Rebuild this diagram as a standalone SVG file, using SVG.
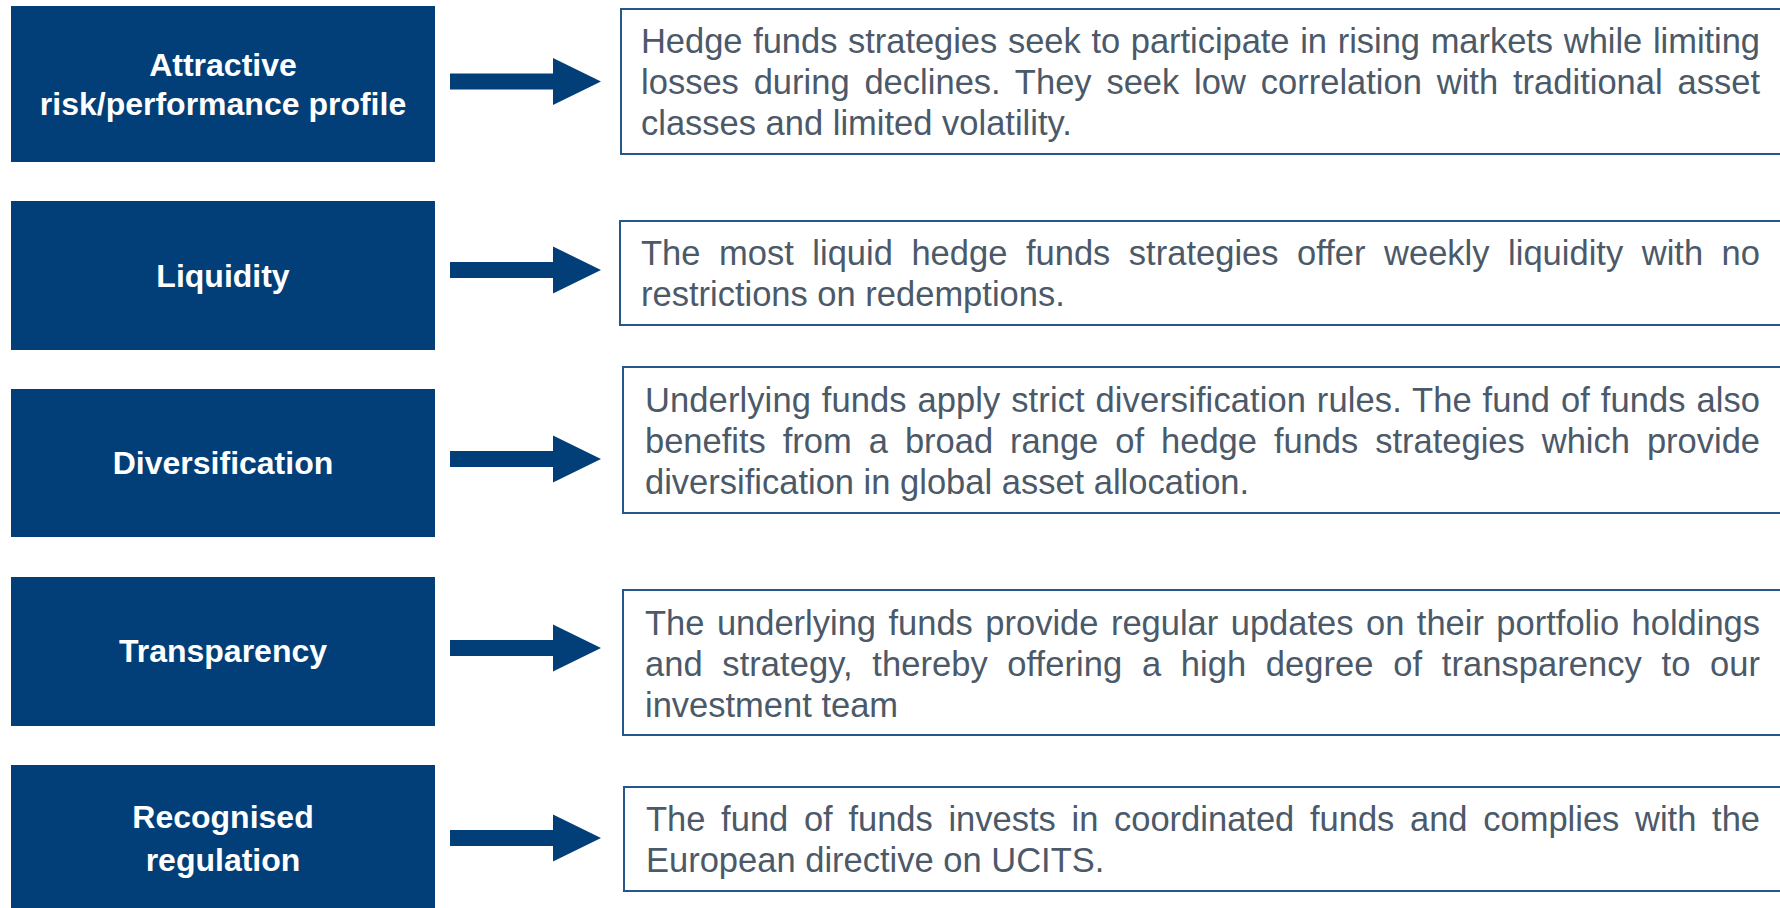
<svg xmlns="http://www.w3.org/2000/svg" width="1780" height="908" viewBox="0 0 1780 908">
  <defs>
    <style>
      .key { fill: #023f78; }
      .key-label { font-family: "Liberation Sans", Arial, sans-serif; font-weight: bold; font-size: 32px; fill: #ffffff; text-anchor: middle; }
      .detail { fill: #ffffff; stroke: #26578c; stroke-width: 2; }
      .detail-text { font-family: "Liberation Sans", Arial, sans-serif; font-size: 34.5px; fill: #4b5969; }
      .arrow { fill: #023f78; }
    </style>
    <!-- block arrow: shaft + triangular head, drawn around y = 0 -->
    <path id="block-arrow" class="arrow" d="M450,-8 H553 V-23.5 L601,0 L553,23.5 V8 H450 Z"/>
  </defs>

  <rect width="1780" height="908" fill="#ffffff"/>

  <!-- connectors -->
  <g id="connectors">
    <use href="#block-arrow" transform="translate(0,81.5)"/>
    <use href="#block-arrow" transform="translate(0,270)"/>
    <use href="#block-arrow" transform="translate(0,459)"/>
    <use href="#block-arrow" transform="translate(0,648)"/>
    <use href="#block-arrow" transform="translate(0,838)"/>
  </g>

  <!-- row 1 -->
  <g id="key-risk-performance">
    <rect class="key" x="11" y="6" width="424" height="156"/>
    <text class="key-label" x="223" y="76">Attractive</text>
    <text class="key-label" x="223" y="115">risk/performance profile</text>
  </g>
  <g id="detail-risk-performance">
    <rect class="detail" x="621" y="9" width="1180" height="145"/>
    <text class="detail-text" x="641" y="53" style="word-spacing:1.2px" textLength="1119" lengthAdjust="spacing">Hedge funds strategies seek to participate in rising markets while limiting</text>
    <text class="detail-text" x="641" y="94" style="word-spacing:5.2px" textLength="1119" lengthAdjust="spacing">losses during declines. They seek low correlation with traditional asset</text>
    <text class="detail-text" x="641" y="135">classes and limited volatility.</text>
  </g>

  <!-- row 2 -->
  <g id="key-liquidity">
    <rect class="key" x="11" y="201" width="424" height="149"/>
    <text class="key-label" x="223" y="287">Liquidity</text>
  </g>
  <g id="detail-liquidity">
    <rect class="detail" x="620" y="221" width="1180" height="104"/>
    <text class="detail-text" x="641" y="265" style="word-spacing:8.9px" textLength="1119" lengthAdjust="spacing">The most liquid hedge funds strategies offer weekly liquidity with no</text>
    <text class="detail-text" x="641" y="306">restrictions on redemptions.</text>
  </g>

  <!-- row 3 -->
  <g id="key-diversification">
    <rect class="key" x="11" y="389" width="424" height="148"/>
    <text class="key-label" x="223" y="474">Diversification</text>
  </g>
  <g id="detail-diversification">
    <rect class="detail" x="623" y="367" width="1180" height="146"/>
    <text class="detail-text" x="645" y="412" style="word-spacing:1.1px" textLength="1115" lengthAdjust="spacing">Underlying funds apply strict diversification rules. The fund of funds also</text>
    <text class="detail-text" x="645" y="453" style="word-spacing:7.4px" textLength="1115" lengthAdjust="spacing">benefits from a broad range of hedge funds strategies which provide</text>
    <text class="detail-text" x="645" y="494">diversification in global asset allocation.</text>
  </g>

  <!-- row 4 -->
  <g id="key-transparency">
    <rect class="key" x="11" y="577" width="424" height="149"/>
    <text class="key-label" x="223" y="662">Transparency</text>
  </g>
  <g id="detail-transparency">
    <rect class="detail" x="623" y="590" width="1180" height="145"/>
    <text class="detail-text" x="645" y="635" style="word-spacing:2.9px" textLength="1115" lengthAdjust="spacing">The underlying funds provide regular updates on their portfolio holdings</text>
    <text class="detail-text" x="645" y="676" style="word-spacing:10px" textLength="1115" lengthAdjust="spacing">and strategy, thereby offering a high degree of transparency to our</text>
    <text class="detail-text" x="645" y="717">investment team</text>
  </g>

  <!-- row 5 -->
  <g id="key-regulation">
    <rect class="key" x="11" y="765" width="424" height="150"/>
    <text class="key-label" x="223" y="828">Recognised</text>
    <text class="key-label" x="223" y="871">regulation</text>
  </g>
  <g id="detail-regulation">
    <rect class="detail" x="624" y="787" width="1180" height="104"/>
    <text class="detail-text" x="646" y="831" style="word-spacing:6.1px" textLength="1114" lengthAdjust="spacing">The fund of funds invests in coordinated funds and complies with the</text>
    <text class="detail-text" x="646" y="872">European directive on UCITS.</text>
  </g>
</svg>
